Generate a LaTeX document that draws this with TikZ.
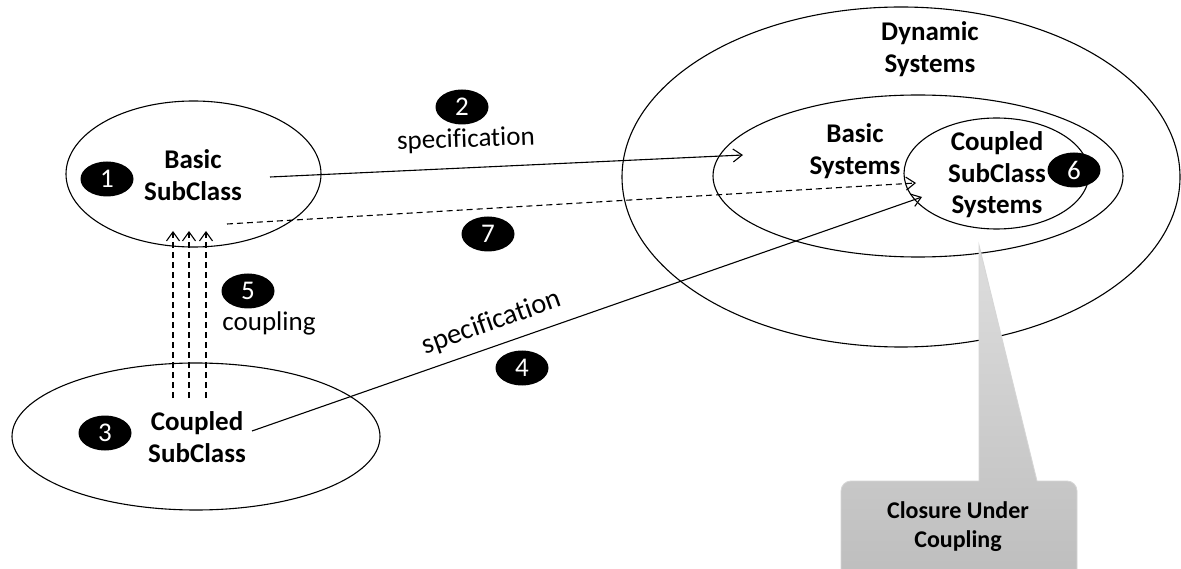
\documentclass[tikz,border=0pt]{standalone}
\usepackage{fontspec}
\setmainfont{Carlito}[Ligatures=NoCommon]
\usetikzlibrary{shapes.geometric,arrows.meta}
\begin{document}
\begin{tikzpicture}[x=1pt,y=-1pt,
  ell/.style={draw,ellipse,line width=1.1pt,inner sep=0pt},
  badge/.style={ellipse,fill=black,text=white,minimum width=53pt,minimum height=35pt,inner sep=0pt,font=\fontsize{27}{30}\selectfont},
  lbl/.style={font=\fontsize{27}{31.5}\selectfont\bfseries,align=center,inner sep=0pt},
  calltext/.style={font=\fontsize{24}{29}\selectfont\bfseries,align=center,inner sep=0pt},
  plainlbl/.style={font=\fontsize{27}{31.5}\selectfont,inner sep=0pt},
  conn/.style={line width=1.1pt,-{Straight Barb[length=9pt,width=13pt]}},
  dconn/.style={conn,dash pattern=on 6pt off 4pt}]
\clip (0,0) rectangle (1181,569);
\fill[white] (0,0) rectangle (1181,569);

% ellipses
\node[ell,minimum width=558pt,minimum height=340pt] (dyn) at (901,177) {};
\node[ell,minimum width=410pt,minimum height=162pt] (bas) at (918,176) {};
\node[ell,minimum width=185pt,minimum height=111pt] (csc) at (996.5,173.5) {};
\node[ell,minimum width=255pt,minimum height=146pt] (bsub) at (193.5,174) {};
\node[ell,minimum width=368pt,minimum height=147pt] (csub) at (196,436.5) {};

% texts
\node[lbl] (bsubt) at (193,175) {Basic\\SubClass};
\node[lbl] (csubt) at (197,437) {Coupled\\SubClass};
\node[lbl] (csct) at (997,175) {Coupled\\SubClass\\Systems};
\node[lbl] (bast) at (855,151) {Basic\\Systems};
\node[lbl] (dynt) at (930,49) {Dynamic\\Systems};

% callout
\path[top color=black!13,bottom color=black!26,draw=black!16,line width=0.8pt]
  (900,481) -- (979,481) -- (979,245) -- (1037,481) [rounded corners=10pt] -- (1077,481) -- (1077,590) -- (841,590) -- (841,481) -- cycle;
\node[calltext] (clo) at (958,527) {Closure Under\\Coupling};

% connector end points
\coordinate (s2) at (270,177);
\coordinate (e2) at (743,155);
\coordinate (s7) at (227,224);
\coordinate (e7) at (916,183);
\coordinate (s4) at (252,431);
\coordinate (e4) at (922,197);
\coordinate (sa) at (173,398);
\coordinate (ea) at (173,231);
\coordinate (sb) at (189,398);
\coordinate (eb) at (189,231);
\coordinate (sc) at (206,398);
\coordinate (ec) at (206,231);

\draw[conn] (s2) -- (e2);
\draw[dconn] (s7) -- (e7);
\draw[conn] (s4) -- (e4);
\draw[dconn] (sa) -- (ea);
\draw[dconn] (sb) -- (eb);
\draw[dconn] (sc) -- (ec);

% labels
\node[plainlbl,rotate=2] (spec2) at (466,140) {specification};
\node[plainlbl,rotate=19.5,font=\fontsize{28.5}{31.5}\selectfont] (spec4) at (492,323) {specification};
\node[plainlbl] (coup) at (269,323) {coupling};

% badges
\node[badge] (b1) at (107,179) {1};
\node[badge] (b2) at (462,107) {2};
\node[badge] (b3) at (105,433) {3};
\node[badge] (b4) at (522,368) {4};
\node[badge] (b5) at (248,291) {5};
\node[badge] (b6) at (1074,170) {6};
\node[badge] (b7) at (488,234) {7};
\end{tikzpicture}
\end{document}
